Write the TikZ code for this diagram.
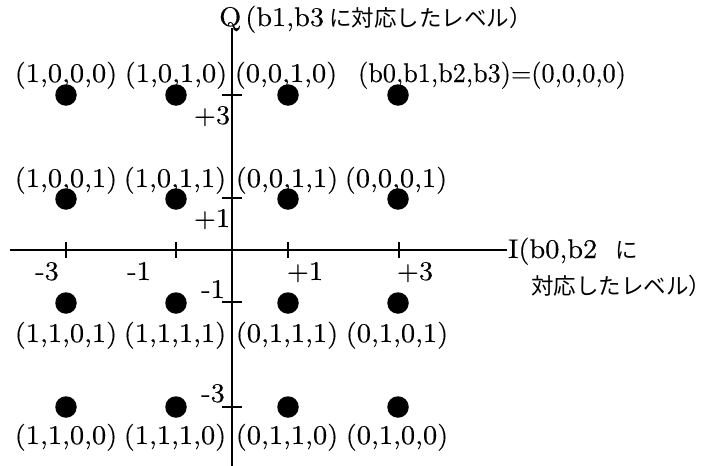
\documentclass[tikz,border=0pt]{standalone}
\usepackage{fontspec}
\setmainfont{lmroman10-regular.otf}[FakeStretch=1.05,FakeBold=0.3]
\newfontfamily\narrowlm{lmroman10-regular.otf}[FakeStretch=0.97,FakeBold=0.3]
\newfontfamily\jp{Noto Sans CJK JP}
\newcommand{\jpsize}{\jp\fontsize{22.5}{25}\selectfont}
\begin{document}
\begin{tikzpicture}[x=1pt,y=-1pt,
  axisline/.style={line width=1.8pt},
  tickline/.style={line width=1.6pt},
  dot/.style={circle,fill=black,inner sep=0pt,minimum size=21.5pt},
  lbl/.style={inner sep=0pt,anchor=base,font=\fontsize{27}{30}\selectfont},
  jlbl/.style={inner sep=0pt,anchor=base west,font=\jpsize}]
\useasboundingbox (0,0) rectangle (710,466);
% axes
\coordinate (qtop) at (232,28);
\coordinate (qbot) at (232,466);
\coordinate (ileft) at (10,250);
\coordinate (iright) at (507,250);
\draw[axisline] (qtop) -- (qbot);
\draw[axisline] (ileft) -- (iright);
% ticks on I axis
\foreach \n/\x in {m3/66,m1/176,p1/288,p3/399}{
  \coordinate (ti\n) at (\x,250);
  \draw[tickline] (ti\n) ++(0,-8) -- ++(0,16);
}
% ticks on Q axis
\foreach \n/\y in {p3/95,p1/198,m1/302,m3/407}{
  \coordinate (tq\n) at (232,\y);
  \draw[tickline] (tq\n) ++(-10,0) -- ++(19.5,0);
}
% dots
\foreach \c/\x in {1/66,2/176,3/288,4/398}{
  \foreach \r/\y in {1/95,2/199,3/303,4/407}{
    \node[dot] (d\r\c) at (\x,\y) {};
  }
}
% point labels
\node[lbl] (l11) at (66,82) {(1,0,0,0)};
\node[lbl] (l12) at (176,82) {(1,0,1,0)};
\node[lbl] (l13) at (286,82) {(0,0,1,0)};
\node[lbl] (l14) at (492,82) {\narrowlm (b0,b1,b2,b3)=(0,0,0,0)};
\node[lbl] (l21) at (66,187) {(1,0,0,1)};
\node[lbl] (l22) at (175,187) {(1,0,1,1)};
\node[lbl] (l23) at (287,187) {(0,0,1,1)};
\node[lbl] (l24) at (396,187) {(0,0,0,1)};
\node[lbl] (l31) at (66,342) {(1,1,0,1)};
\node[lbl] (l32) at (175,342) {(1,1,1,1)};
\node[lbl] (l33) at (287,342) {(0,1,1,1)};
\node[lbl] (l34) at (397,342) {(0,1,0,1)};
\node[lbl] (l41) at (66,444) {(1,1,0,0)};
\node[lbl] (l42) at (175,444) {(1,1,1,0)};
\node[lbl] (l43) at (287,444) {(0,1,1,0)};
\node[lbl] (l44) at (397,444) {(0,1,0,0)};
% tick labels
\node[lbl] (tlqp3) at (212,124) {+3};
\node[lbl] (tlqp1) at (212,227) {+1};
\node[lbl] (tlqm1) at (213,298) {-1};
\node[lbl] (tlqm3) at (213,402) {-3};
\node[lbl] (tlim3) at (47,280) {-3};
\node[lbl] (tlim1) at (139,280) {-1};
\node[lbl] (tlip1) at (305,280) {+1};
\node[lbl] (tlip3) at (415,280) {+3};
% axis titles
\node[lbl,anchor=base west] (qlab) at (219,26) {Q\hspace{4pt}(b1,b3\hspace{5pt}{\jpsize に対応したレベル）}};
\node[lbl,anchor=base west] (ilab) at (508,258) {I(b0,b2\hspace{18pt}{\jpsize に}};
\node[jlbl] (ilab2) at (531,294) {対応したレベル\makebox[0.55em][l]{）}};
\end{tikzpicture}
\end{document}
